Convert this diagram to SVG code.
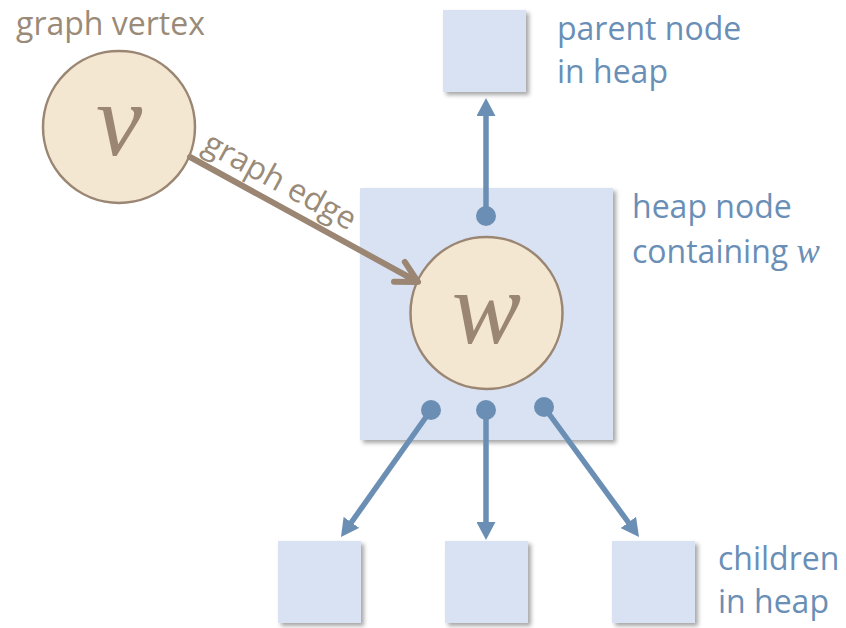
<svg xmlns="http://www.w3.org/2000/svg" width="846" height="628" viewBox="0 0 846 628">
<defs>
<filter id="sh" x="-10%" y="-10%" width="130%" height="130%">
<feDropShadow dx="3" dy="3" stdDeviation="2" flood-color="#000" flood-opacity="0.35"/>
</filter>
<marker id="ah" viewBox="0 0 18 19" refX="10" refY="9.5" markerWidth="18" markerHeight="19" markerUnits="userSpaceOnUse" orient="auto">
<path d="M0,0 L18,9.5 L0,19 z" fill="#6b8fb4"/>
</marker>
</defs>
<style>
.box{fill:#d9e2f3;filter:url(#sh)}
.circ{fill:#f3e7d2;stroke:#9a8672;stroke-width:2.5}
.var{font-family:"Liberation Serif",serif;font-style:italic;font-size:104px;fill:#9a8672;text-anchor:middle}
.lblb{font-family:"Open Sans",sans-serif;font-size:32px;fill:#6a8fb6}
.lblt{font-family:"Open Sans",sans-serif;font-size:32px;fill:#9a8a78}
.bl{stroke:#6b8fb4;stroke-width:5.5;fill:none;marker-end:url(#ah)}
.dot{fill:#6b8fb4}
.ge{stroke:#9a8672;stroke-width:6;fill:none;stroke-linecap:round;stroke-linejoin:round}
</style>
<rect width="846" height="628" fill="#ffffff"/>

<g id="heap-node">
<rect class="box" x="360" y="188" width="253" height="252"/>
</g>
<g id="parent">
<rect class="box" x="443" y="10" width="83" height="82"/>
</g>
<g id="child1"><rect class="box" x="278" y="541" width="83" height="82"/></g>
<g id="child2"><rect class="box" x="445" y="541" width="83" height="82"/></g>
<g id="child3"><rect class="box" x="612" y="541" width="83" height="82"/></g>

<g id="vertex-v">
<circle class="circ" cx="119" cy="127" r="76"/>
<text class="var" x="119" y="155">v</text>
</g>
<g id="vertex-w">
<circle class="circ" cx="486.5" cy="313" r="76"/>
<text class="var" x="486.5" y="343">w</text>
</g>

<g id="connectors">
<path class="ge" d="M190,157 L416,281 M404.8,261.9 L418,282 L394,281.7"/>
<circle class="dot" cx="486" cy="216" r="10"/>
<path class="bl" d="M486,216 L486,106"/>
<circle class="dot" cx="431" cy="410" r="10"/>
<path class="bl" d="M431,410 L345.6,530.5"/>
<circle class="dot" cx="486" cy="410" r="10"/>
<path class="bl" d="M486,410 L486,532"/>
<circle class="dot" cx="544" cy="407" r="10"/>
<path class="bl" d="M544,407 L634.3,530.5"/>
</g>

<g id="labels">
<text class="lblt" x="16" y="35">graph vertex</text>
<text class="lblt" font-size="29" transform="translate(201,150) rotate(28.7)">graph edge</text>
<text class="lblb" x="557" y="40">parent node</text>
<text class="lblb" x="557" y="83">in heap</text>
<text class="lblb" x="632" y="218">heap node</text>
<text class="lblb" x="632" y="263">containing <tspan font-family="Liberation Serif, serif" font-style="italic" font-size="35">w</tspan></text>
<text class="lblb" x="718" y="570">children</text>
<text class="lblb" x="718" y="613">in heap</text>
</g>
</svg>
